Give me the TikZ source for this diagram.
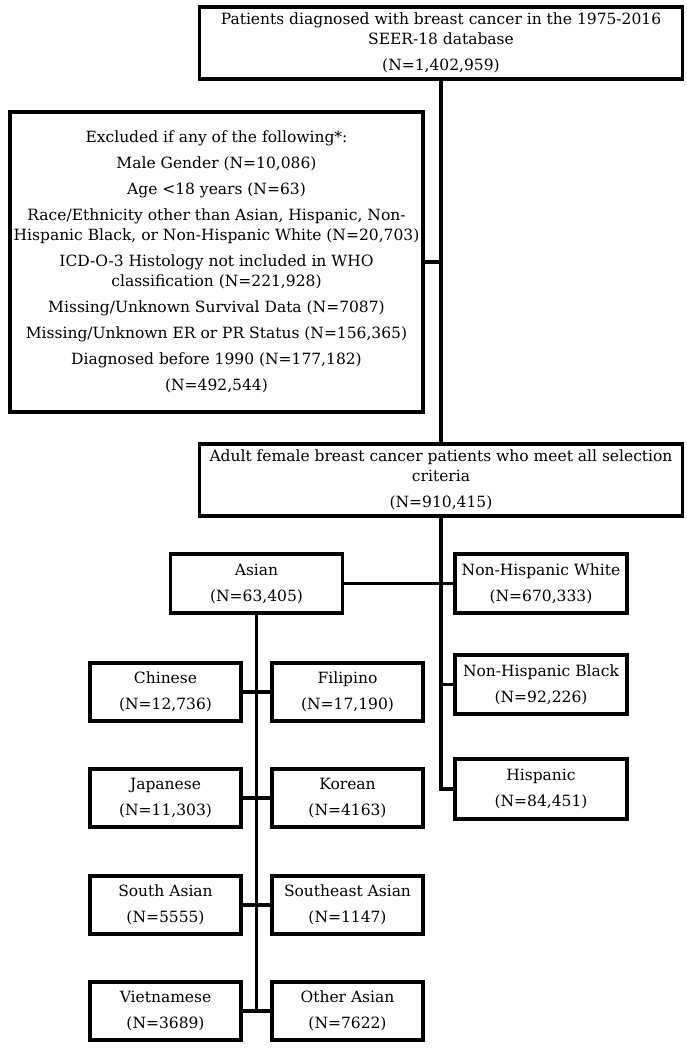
\documentclass[tikz,border=0pt]{standalone}
\usepackage{fontspec}
\setmainfont{DejaVu Serif}
\usepackage{tikz}

\begin{document}
\begin{tikzpicture}[x=1pt,y=-1pt,line width=3.4pt,
    box/.style={draw,rectangle,align=center,inner sep=1pt,
                font=\fontsize{15.5}{20}\selectfont},
    wide/.style={box,minimum width=483pt,minimum height=72pt},
    grp/.style={box,minimum width=172pt,minimum height=59pt},
    sub/.style={box,minimum width=151pt,minimum height=58pt}]
%
         \useasboundingbox (0,0) rectangle (686,1050);

         \node [wide] (all)   at (441,43)    {Patients diagnosed with breast cancer in the 1975-2016\\SEER-18 database\\[6pt](N=1,402,959)};
         \node [box,minimum width=413pt,minimum height=300pt] (excl) at (216.5,262) {Excluded if any of the following*:\\[6pt]
             Male Gender (N=10,086)\\[6pt]
             Age <18 years (N=63)\\[6pt]
             Race/Ethnicity other than Asian, Hispanic, Non-\\Hispanic Black, or Non-Hispanic White (N=20,703)\\[6pt]
             ICD-O-3 Histology not included in WHO\\classification (N=221,928)\\[6pt]
             Missing/Unknown Survival Data (N=7087)\\[6pt]
             Missing/Unknown ER or PR Status (N=156,365)\\[6pt]
             Diagnosed before 1990 (N=177,182)\\[6pt]
             (N=492,544)};
         \node [wide] (adult) at (441,480)   {Adult female breast cancer patients who meet all selection\\criteria\\[6pt](N=910,415)};

         \node [grp] (asian) at (256.5,583.5) {Asian\\[6pt](N=63,405)};
         \node [grp] (nhw)   at (541,583.5)   {Non-Hispanic White\\[6pt](N=670,333)};
         \node [grp] (nhb)   at (541,684.5)   {Non-Hispanic Black\\[6pt](N=92,226)};
         \node [grp,minimum height=60pt] (hisp) at (541,789) {Hispanic\\[6pt](N=84,451)};

         \node [sub] (chin)  at (165.5,692)  {Chinese\\[6pt](N=12,736)};
         \node [sub] (fil)   at (347.5,692)  {Filipino\\[6pt](N=17,190)};
         \node [sub] (jap)   at (165.5,798)  {Japanese\\[6pt](N=11,303)};
         \node [sub] (kor)   at (347.5,798)  {Korean\\[6pt](N=4163)};
         \node [sub] (sas)   at (165.5,905)  {South Asian\\[6pt](N=5555)};
         \node [sub] (seas)  at (347.5,905)  {Southeast Asian\\[6pt](N=1147)};
         \node [sub] (viet)  at (165.5,1011) {Vietnamese\\[6pt](N=3689)};
         \node [sub] (oth)   at (347.5,1011) {Other Asian\\[6pt](N=7622)};

         \draw (all) -- (adult);
         \draw (excl.east) -- (excl.east -| all.south);
         \draw (adult.south) |- (hisp.west);
         \draw (adult.south |- nhb.west) -- (nhb.west);
         \draw (asian) -- (nhw);
         \draw (asian.south) -- (asian.south |- viet.east);

         \draw (chin) -- (fil);
         \draw (jap) -- (kor);
         \draw (sas) -- (seas);
         \draw (viet) -- (oth);

\end{tikzpicture}
\end{document}
